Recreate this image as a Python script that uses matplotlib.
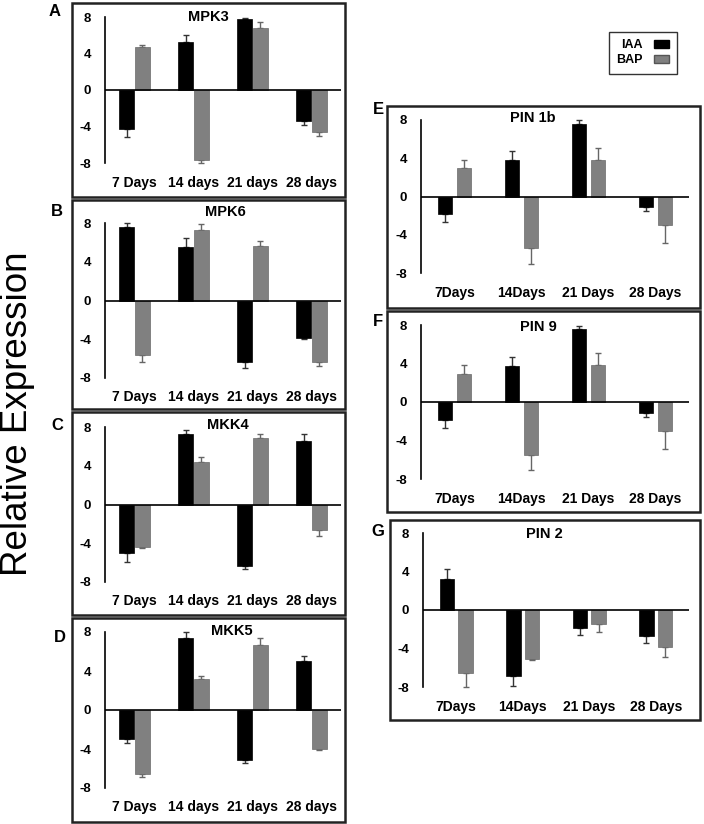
import numpy as np
import matplotlib
matplotlib.use("Agg")
import matplotlib.pyplot as plt
from matplotlib.patches import Rectangle, Patch

plt.rcParams['font.family'] = ['Liberation Sans', 'DejaVu Sans']

# categories
days_left = ['7 Days', '14 days', '21 days', '28 days']
days_right = ['7Days', '14Days', '21 Days', '28 Days']

# MPK3
mpk3_iaa = [-4.3, 5.3, 7.75, -3.4]
mpk3_iaa_err = [0.9, 0.7, 0.15, 0.4]
mpk3_bap = [4.7, -7.7, 6.8, -4.65]
mpk3_bap_err = [0.25, 0.3, 0.65, 0.35]

# MPK6
mpk6_iaa = [7.55, 5.5, -6.35, -3.9]
mpk6_iaa_err = [0.5, 0.95, 0.6, 0.1]
mpk6_bap = [-5.65, 7.25, 5.65, -6.35]
mpk6_bap_err = [0.7, 0.65, 0.5, 0.4]

# MKK4
mkk4_iaa = [-5.0, 7.3, -6.3, 6.6]
mkk4_iaa_err = [0.95, 0.4, 0.35, 0.7]
mkk4_bap = [-4.4, 4.35, 6.9, -2.6]
mkk4_bap_err = [0.1, 0.6, 0.4, 0.6]

# MKK5
mkk5_iaa = [-3.0, 7.4, -5.1, 5.05]
mkk5_iaa_err = [0.35, 0.6, 0.3, 0.45]
mkk5_bap = [-6.6, 3.15, 6.65, -3.95]
mkk5_bap_err = [0.27, 0.38, 0.72, 0.2]

# PIN 1b
pin1b_iaa = [-1.85, 3.8, 7.6, -1.1]
pin1b_iaa_err = [0.8, 0.95, 0.4, 0.4]
pin1b_bap = [2.95, -5.4, 3.85, -2.95]
pin1b_bap_err = [0.87, 1.65, 1.25, 1.9]

# PIN 9
pin9_iaa = [-1.9, 3.75, 7.55, -1.15]
pin9_iaa_err = [0.78, 0.97, 0.38, 0.42]
pin9_bap = [2.9, -5.5, 3.85, -3.0]
pin9_bap_err = [0.9, 1.6, 1.2, 1.88]

# PIN 2
pin2_iaa = [3.2, -6.85, -1.9, -2.7]
pin2_iaa_err = [1.04, 1.04, 0.7, 0.77]
pin2_bap = [-6.55, -5.1, -1.45, -3.85]
pin2_bap_err = [1.45, 0.1, 0.87, 1.04]

W, H = 704, 824
fig = plt.figure(figsize=(W / 100, H / 100), dpi=100)


def add_axes_px(x0, x1, ytop, ybot):
    return fig.add_axes([x0 / W, 1 - ybot / H, (x1 - x0) / W, (ybot - ytop) / H])


def frame_px(x0, y0, x1, y1):
    fig.add_artist(Rectangle((x0 / W, 1 - y1 / H), (x1 - x0) / W, (y1 - y0) / H,
                             transform=fig.transFigure, fill=False,
                             edgecolor='#222222', lw=1.8))


def one_sided(vals, errs):
    vals = np.array(vals)
    errs = np.array(errs)
    lower = np.where(vals < 0, errs, 0)
    upper = np.where(vals >= 0, errs, 0)
    return [lower, upper]


def panel(ax, iaa, iaa_err, bap, bap_err, labels, width, off):
    x = np.arange(len(labels))
    ax.bar(x - off, iaa, width, color='black', edgecolor='black', lw=0.5, zorder=2)
    ax.bar(x + off, bap, width, color='#808080', edgecolor='#6a6a6a', lw=0.5, zorder=2)
    ax.errorbar(x - off, iaa, yerr=one_sided(iaa, iaa_err), fmt='none',
                ecolor='#333333', elinewidth=1, capsize=2.2, capthick=1, zorder=1, clip_on=False)
    ax.errorbar(x + off, bap, yerr=one_sided(bap, bap_err), fmt='none',
                ecolor='#666666', elinewidth=1, capsize=2.2, capthick=1, zorder=1, clip_on=False)
    ax.axhline(0, color='black', lw=1.2, zorder=3)
    ax.set_xlim(-0.5, 3.5)
    ax.set_ylim(-8, 8)
    ax.set_yticks([-8, -4, 0, 4, 8])
    ax.set_yticklabels(['-8', '-4', '0', '4', '8'], fontsize=9.5, fontweight='bold')
    ax.set_xticks(x)
    ax.set_xticklabels(labels, fontsize=10, fontweight='bold')
    ax.tick_params(axis='both', length=0)
    ax.tick_params(axis='x', pad=9)
    ax.tick_params(axis='y', pad=10)
    for s in ['top', 'right', 'bottom']:
        ax.spines[s].set_visible(False)
    ax.spines['left'].set_linewidth(1.2)
    ax.patch.set_alpha(0)


# left column
ax_a = add_axes_px(105, 341, 17, 163)
panel(ax_a, mpk3_iaa, mpk3_iaa_err, mpk3_bap, mpk3_bap_err, days_left, 0.24, 0.135)
ax_b = add_axes_px(105, 341, 223, 378)
panel(ax_b, mpk6_iaa, mpk6_iaa_err, mpk6_bap, mpk6_bap_err, days_left, 0.24, 0.135)
ax_c = add_axes_px(105, 341, 427, 582)
panel(ax_c, mkk4_iaa, mkk4_iaa_err, mkk4_bap, mkk4_bap_err, days_left, 0.24, 0.135)
ax_d = add_axes_px(105, 341, 632, 788)
panel(ax_d, mkk5_iaa, mkk5_iaa_err, mkk5_bap, mkk5_bap_err, days_left, 0.24, 0.135)

# right column
ax_e = add_axes_px(421, 689, 120, 273)
panel(ax_e, pin1b_iaa, pin1b_iaa_err, pin1b_bap, pin1b_bap_err, days_right, 0.22, 0.14)
ax_f = add_axes_px(421, 689, 325, 479)
panel(ax_f, pin9_iaa, pin9_iaa_err, pin9_bap, pin9_bap_err, days_right, 0.22, 0.14)
ax_g = add_axes_px(423, 689, 533, 687)
panel(ax_g, pin2_iaa, pin2_iaa_err, pin2_bap, pin2_bap_err, days_right, 0.22, 0.14)

# frames
frame_px(72, 3, 345, 197)
frame_px(72, 200, 345, 409)
frame_px(72, 412, 345, 615)
frame_px(72, 618, 345, 822)
frame_px(387, 106, 700, 308)
frame_px(387, 311, 700, 512)
frame_px(390, 520, 700, 720)

# panel titles
titles = [('MPK3', 208, 17), ('MPK6', 225, 212), ('MKK4', 228, 425), ('MKK5', 232, 631),
          ('PIN 1b', 533, 118), ('PIN 9', 538, 327), ('PIN 2', 544, 534)]
for t, x, y in titles:
    fig.text(x / W, 1 - y / H, t, ha='center', va='center', fontsize=10.5, fontweight='bold')

# panel letters
letters = [('A', 55, 12), ('B', 57, 212), ('C', 57, 425), ('D', 60, 637),
           ('E', 378, 110), ('F', 378, 322), ('G', 378, 532)]
for t, x, y in letters:
    fig.text(x / W, 1 - y / H, t, ha='center', va='center', fontsize=12, fontweight='bold')

# common y label
fig.text(18 / W, 1 - 414 / H, 'Relative Expression', rotation=90, ha='center', va='center',
         fontsize=26.5)

# legend
handles = [Patch(facecolor='black', edgecolor='black'),
           Patch(facecolor='#808080', edgecolor='#555555')]
leg = fig.legend(handles, ['IAA', 'BAP'], loc='upper left',
                 bbox_to_anchor=(609 / W, 1 - 32 / H), markerfirst=False,
                 fancybox=False, framealpha=1, edgecolor='#333333',
                 prop={'weight': 'bold', 'size': 9}, handlelength=1.2, handleheight=0.6,
                 handletextpad=0.9, labelspacing=0.2, borderpad=0.6, borderaxespad=0)
leg.get_frame().set_linewidth(1.0)

fig.savefig('out.png', dpi=100)
